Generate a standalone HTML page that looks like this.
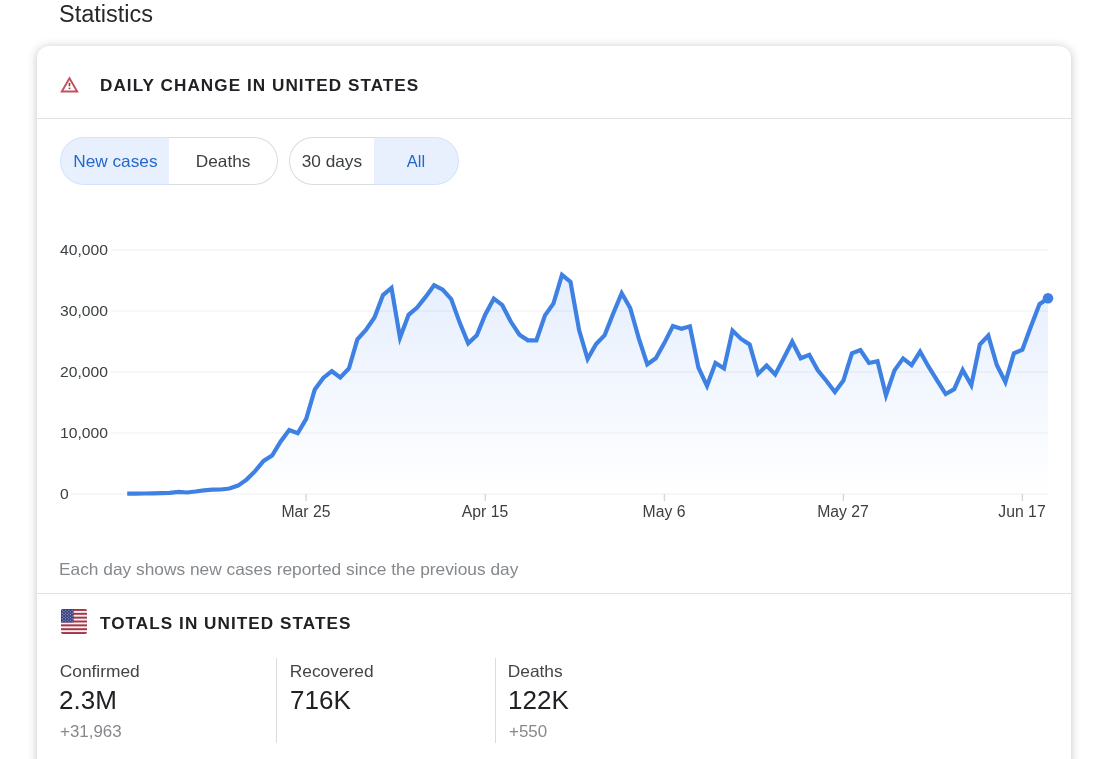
<!DOCTYPE html>
<html><head><meta charset="utf-8">
<style>
html,body{margin:0;padding:0;background:#fff;}
body{filter:blur(0.4px);width:1108px;height:759px;overflow:hidden;position:relative;font-family:"Liberation Sans",sans-serif;color:#202124;}
.abs{position:absolute;white-space:nowrap;transform-origin:0 50%;}
#title{left:59px;top:1px;font-size:23.5px;line-height:26px;color:#27282b;}
#card{position:absolute;left:37px;top:46px;width:1034px;height:760px;border-radius:12px;background:#fff;box-shadow:0 1px 10px rgba(32,33,36,0.27);}
.hr{position:absolute;left:37px;width:1034px;height:1px;background:#e1e2e5;}
.h{font-weight:bold;font-size:16.4px;letter-spacing:1px;color:#202124;line-height:20px;transform:scaleX(1.046);}
.seg{position:absolute;top:137px;height:46px;line-height:46px;text-align:center;font-size:16.5px;color:#3c4043;border:1px solid #dadce0;background:#fff;box-sizing:content-box;}
.seg span{display:inline-block;transform:scaleX(1.045);}
.seg.l{border-right:none;border-radius:24px 0 0 24px;}
.seg.r{border-left:none;border-radius:0 24px 24px 0;}
.seg.on{background:#e8f0fe;color:#2568cc;border-color:#d2e3fc;}
.yl{left:60.3px;font-size:15.5px;line-height:18px;color:#3c4043;transform:scaleX(1.01);}
.xl{font-size:15.6px;line-height:18px;color:#3c4043;transform:translateX(-50%) scaleX(1.01);transform-origin:50% 50%;}
.lab{font-size:16.5px;line-height:20px;color:#424548;transform:translateX(0.7px) scaleX(1.052);}
.val{font-size:26px;line-height:30px;color:#202124;}
.sub{font-size:16.5px;line-height:20px;color:#85888c;transform:translateX(1px) scaleX(1.025);}
.vd{position:absolute;top:658px;width:1px;height:85px;background:#dadce0;}
</style></head><body>
<div id="title" class="abs">Statistics</div>
<div id="card"></div>
<svg class="abs" style="left:60px;top:76px" width="19" height="17" viewBox="0 0 19 17"><path d="M9.5 2.2 L17.2 15.5 L1.8 15.5 Z" fill="none" stroke="#c4505b" stroke-width="1.9" stroke-linejoin="miter"/><rect x="8.7" y="6.8" width="1.6" height="3.4" fill="#8b3a3f"/><rect x="8.7" y="11.6" width="1.6" height="1.5" fill="#8b3a3f"/></svg>
<div class="abs h" style="left:100px;top:74.5px">DAILY CHANGE IN UNITED STATES</div>
<div class="hr" style="top:118px"></div>

<div class="seg l on" style="left:60px;width:108px"><span>New cases</span></div>
<div class="seg r" style="left:169px;width:108px"><span>Deaths</span></div>
<div class="seg l" style="left:289px;width:84px"><span>30 days</span></div>
<div class="seg r on" style="left:374px;width:84px"><span style="transform:none">All</span></div>

<svg class="abs" style="left:0;top:0" width="1108" height="759" viewBox="0 0 1108 759">
<defs><linearGradient id="g" x1="0" y1="274" x2="0" y2="494" gradientUnits="userSpaceOnUse">
<stop offset="0" stop-color="#4285f4" stop-opacity="0.135"/><stop offset="1" stop-color="#4285f4" stop-opacity="0.0"/></linearGradient></defs>
<g stroke="#eeeff0" stroke-width="1">
<line x1="111" x2="1048" y1="250" y2="250"/>
<line x1="111" x2="1048" y1="311" y2="311"/>
<line x1="111" x2="1048" y1="372" y2="372"/>
<line x1="111" x2="1048" y1="433" y2="433"/>
<line x1="71" x2="1048" y1="494" y2="494"/>
</g>
<g stroke="#d5d7da" stroke-width="1.4">
<line x1="306.1" x2="306.1" y1="494" y2="501"/>
<line x1="485.3" x2="485.3" y1="494" y2="501"/>
<line x1="664.4" x2="664.4" y1="494" y2="501"/>
<line x1="843.4" x2="843.4" y1="494" y2="501"/>
<line x1="1022.4" x2="1022.4" y1="494" y2="501"/>
</g>
<path d="M127.2,493.7 L135.7,493.6 L144.3,493.5 L152.8,493.3 L161.3,493.1 L169.8,492.8 L178.4,491.9 L186.9,492.5 L195.4,491.5 L203.9,490.3 L212.5,489.6 L221.0,489.5 L229.5,488.5 L238.0,485.6 L246.6,479.6 L255.1,471.2 L263.6,460.9 L272.1,455.5 L280.7,441.4 L289.2,430.0 L297.7,433.2 L306.2,418.8 L314.8,389.5 L323.3,377.9 L331.8,371.2 L340.3,377.5 L348.9,368.5 L357.4,339.4 L365.9,330.0 L374.5,317.5 L383.0,295.1 L391.5,287.9 L400.0,337.8 L408.6,314.8 L417.1,307.6 L425.6,296.9 L434.1,285.2 L442.7,289.7 L451.2,299.1 L459.7,322.6 L468.2,343.4 L476.8,335.3 L485.3,314.4 L493.8,298.7 L502.3,305.2 L510.9,321.8 L519.4,334.7 L527.9,340.3 L536.4,340.3 L545.0,315.4 L553.5,303.4 L562.0,274.8 L570.5,281.8 L579.1,330.1 L587.6,359.0 L596.1,344.0 L604.7,335.1 L613.2,313.5 L621.7,293.2 L630.2,308.0 L638.8,338.4 L647.3,364.3 L655.8,358.3 L664.3,343.1 L672.9,326.0 L681.4,328.7 L689.9,326.3 L698.4,367.5 L707.0,385.8 L715.5,362.9 L724.0,368.4 L732.5,330.6 L741.1,338.9 L749.6,344.4 L758.1,373.9 L766.6,365.6 L775.2,374.5 L783.7,358.3 L792.2,341.7 L800.7,358.3 L809.3,354.9 L817.8,370.3 L826.3,380.7 L834.9,392.0 L843.4,380.6 L851.9,353.4 L860.4,350.1 L869.0,363.0 L877.5,361.2 L886.0,395.3 L894.5,370.4 L903.1,358.4 L911.6,365.2 L920.1,351.6 L928.6,366.7 L937.2,380.6 L945.7,394.0 L954.2,389.2 L962.7,370.0 L971.3,385.2 L979.8,344.6 L988.3,335.6 L996.8,365.0 L1005.4,382.0 L1013.9,353.3 L1022.4,349.6 L1030.9,326.5 L1039.5,304.2 L1048.0,298.3 L1048.0,493.5 L127.2,493.5 Z" fill="url(#g)" stroke="none"/>
<path d="M127.2,493.7 L135.7,493.6 L144.3,493.5 L152.8,493.3 L161.3,493.1 L169.8,492.8 L178.4,491.9 L186.9,492.5 L195.4,491.5 L203.9,490.3 L212.5,489.6 L221.0,489.5 L229.5,488.5 L238.0,485.6 L246.6,479.6 L255.1,471.2 L263.6,460.9 L272.1,455.5 L280.7,441.4 L289.2,430.0 L297.7,433.2 L306.2,418.8 L314.8,389.5 L323.3,377.9 L331.8,371.2 L340.3,377.5 L348.9,368.5 L357.4,339.4 L365.9,330.0 L374.5,317.5 L383.0,295.1 L391.5,287.9 L400.0,337.8 L408.6,314.8 L417.1,307.6 L425.6,296.9 L434.1,285.2 L442.7,289.7 L451.2,299.1 L459.7,322.6 L468.2,343.4 L476.8,335.3 L485.3,314.4 L493.8,298.7 L502.3,305.2 L510.9,321.8 L519.4,334.7 L527.9,340.3 L536.4,340.3 L545.0,315.4 L553.5,303.4 L562.0,274.8 L570.5,281.8 L579.1,330.1 L587.6,359.0 L596.1,344.0 L604.7,335.1 L613.2,313.5 L621.7,293.2 L630.2,308.0 L638.8,338.4 L647.3,364.3 L655.8,358.3 L664.3,343.1 L672.9,326.0 L681.4,328.7 L689.9,326.3 L698.4,367.5 L707.0,385.8 L715.5,362.9 L724.0,368.4 L732.5,330.6 L741.1,338.9 L749.6,344.4 L758.1,373.9 L766.6,365.6 L775.2,374.5 L783.7,358.3 L792.2,341.7 L800.7,358.3 L809.3,354.9 L817.8,370.3 L826.3,380.7 L834.9,392.0 L843.4,380.6 L851.9,353.4 L860.4,350.1 L869.0,363.0 L877.5,361.2 L886.0,395.3 L894.5,370.4 L903.1,358.4 L911.6,365.2 L920.1,351.6 L928.6,366.7 L937.2,380.6 L945.7,394.0 L954.2,389.2 L962.7,370.0 L971.3,385.2 L979.8,344.6 L988.3,335.6 L996.8,365.0 L1005.4,382.0 L1013.9,353.3 L1022.4,349.6 L1030.9,326.5 L1039.5,304.2 L1048.0,298.3" fill="none" stroke="#3f81e3" stroke-width="4.2" stroke-linejoin="miter" stroke-linecap="butt"/>
<circle cx="1048" cy="298.3" r="5.3" fill="#3f81e3"/>
</svg>
<div class="abs yl" style="top:241px">40,000</div>
<div class="abs yl" style="top:302px">30,000</div>
<div class="abs yl" style="top:363px">20,000</div>
<div class="abs yl" style="top:424px">10,000</div>
<div class="abs yl" style="top:485px">0</div>
<div class="abs xl" style="left:306px;top:503px">Mar 25</div>
<div class="abs xl" style="left:485.2px;top:503px">Apr 15</div>
<div class="abs xl" style="left:664.4px;top:503px">May 6</div>
<div class="abs xl" style="left:843.3px;top:503px">May 27</div>
<div class="abs xl" style="left:1022.4px;top:503px">Jun 17</div>

<div class="abs" style="left:59px;top:558.5px;font-size:16.5px;line-height:20px;color:#85888c;transform:scaleX(1.05)">Each day shows new cases reported since the previous day</div>
<div class="hr" style="top:592.5px"></div>

<svg class="abs" style="left:61px;top:609px" width="26" height="25" viewBox="0 0 26 25">
<defs><clipPath id="fc"><rect x="0" y="0" width="26" height="25" rx="2" ry="2"/></clipPath></defs>
<g clip-path="url(#fc)">
<rect width="26" height="25" fill="#fbeef0"/>
<g fill="#a23649"><rect y="0.00" width="26" height="1.92"/><rect y="3.85" width="26" height="1.92"/><rect y="7.69" width="26" height="1.92"/><rect y="11.54" width="26" height="1.92"/><rect y="15.38" width="26" height="1.92"/><rect y="19.23" width="26" height="1.92"/><rect y="23.08" width="26" height="1.92"/></g>
<rect x="0" y="0" width="12.6" height="13.5" fill="#3b407f"/>
<g fill="#b4b8de"><circle cx="1.3" cy="1.30" r="0.55"/><circle cx="4.6" cy="1.30" r="0.55"/><circle cx="7.9" cy="1.30" r="0.55"/><circle cx="11.2" cy="1.30" r="0.55"/><circle cx="2.95" cy="2.73" r="0.55"/><circle cx="6.25" cy="2.73" r="0.55"/><circle cx="9.55" cy="2.73" r="0.55"/><circle cx="1.3" cy="4.16" r="0.55"/><circle cx="4.6" cy="4.16" r="0.55"/><circle cx="7.9" cy="4.16" r="0.55"/><circle cx="11.2" cy="4.16" r="0.55"/><circle cx="2.95" cy="5.59" r="0.55"/><circle cx="6.25" cy="5.59" r="0.55"/><circle cx="9.55" cy="5.59" r="0.55"/><circle cx="1.3" cy="7.02" r="0.55"/><circle cx="4.6" cy="7.02" r="0.55"/><circle cx="7.9" cy="7.02" r="0.55"/><circle cx="11.2" cy="7.02" r="0.55"/><circle cx="2.95" cy="8.45" r="0.55"/><circle cx="6.25" cy="8.45" r="0.55"/><circle cx="9.55" cy="8.45" r="0.55"/><circle cx="1.3" cy="9.88" r="0.55"/><circle cx="4.6" cy="9.88" r="0.55"/><circle cx="7.9" cy="9.88" r="0.55"/><circle cx="11.2" cy="9.88" r="0.55"/><circle cx="2.95" cy="11.31" r="0.55"/><circle cx="6.25" cy="11.31" r="0.55"/><circle cx="9.55" cy="11.31" r="0.55"/><circle cx="1.3" cy="12.74" r="0.55"/><circle cx="4.6" cy="12.74" r="0.55"/><circle cx="7.9" cy="12.74" r="0.55"/><circle cx="11.2" cy="12.74" r="0.55"/></g>
</g>
</svg>
<div class="abs h" style="left:100px;top:612.5px">TOTALS IN UNITED STATES</div>
<div class="abs lab" style="left:59px;top:660.5px">Confirmed</div>
<div class="abs val" style="left:59px;top:684.5px">2.3M</div>
<div class="abs sub" style="left:59px;top:721px">+31,963</div>
<div class="vd" style="left:276px"></div>
<div class="abs lab" style="left:289.3px;top:660.5px">Recovered</div>
<div class="abs val" style="left:290px;top:684.5px">716K</div>
<div class="vd" style="left:495px"></div>
<div class="abs lab" style="left:507.3px;top:660.5px">Deaths</div>
<div class="abs val" style="left:508px;top:684.5px">122K</div>
<div class="abs sub" style="left:508px;top:721px">+550</div>
</body></html>
